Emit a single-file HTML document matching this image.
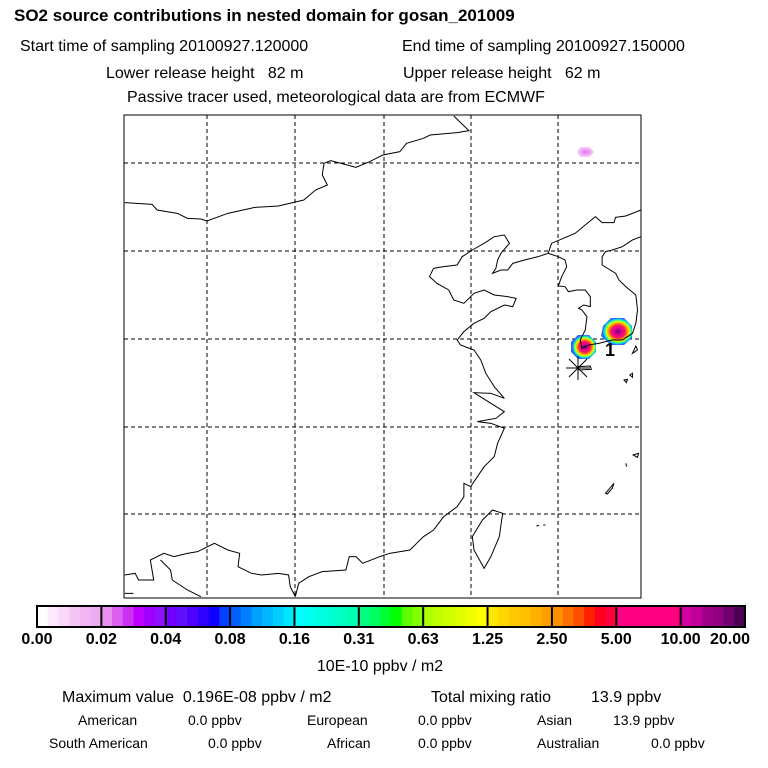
<!DOCTYPE html>
<html><head><meta charset="utf-8"><style>
body{margin:0;background:#fff;width:768px;height:768px;overflow:hidden;font-family:"Liberation Sans",sans-serif}
svg{display:block}
text{white-space:pre}
</style></head><body>
<svg width="768" height="768" viewBox="0 0 768 768" font-family="Liberation Sans, sans-serif">
<text x="14" y="21" font-size="17" font-weight="bold">SO2 source contributions in nested domain for gosan_201009</text>
<text x="20" y="51" font-size="16">Start time of sampling 20100927.120000</text>
<text x="402" y="51" font-size="16">End time of sampling 20100927.150000</text>
<text x="106" y="78" font-size="16">Lower release height   82 m</text>
<text x="403" y="78" font-size="16">Upper release height   62 m</text>
<text x="127" y="102" font-size="16">Passive tracer used, meteorological data are from ECMWF</text>

<g>
<defs>
<radialGradient id="pl" cx="0.55" cy="0.5" r="0.5">
<stop offset="0" stop-color="#600070"/><stop offset="0.25" stop-color="#e0009a"/><stop offset="0.45" stop-color="#ff1060"/><stop offset="0.62" stop-color="#ffa000"/><stop offset="0.75" stop-color="#e0ff00"/><stop offset="0.86" stop-color="#00ffc0"/><stop offset="1" stop-color="#3060ff"/>
</radialGradient>
<radialGradient id="pk" cx="0.5" cy="0.5" r="0.5"><stop offset="0" stop-color="#e070f0"/><stop offset="1" stop-color="#f8d0f8"/></radialGradient>
</defs>
<g stroke="#000" stroke-width="1" stroke-dasharray="4,3">
<line x1="207" y1="115" x2="207" y2="598"/><line x1="295" y1="115" x2="295" y2="598"/><line x1="384" y1="115" x2="384" y2="598"/><line x1="471" y1="115" x2="471" y2="598"/><line x1="558" y1="115" x2="558" y2="598"/>
<line x1="124" y1="163" x2="641" y2="163"/><line x1="124" y1="251" x2="641" y2="251"/><line x1="124" y1="339" x2="641" y2="339"/><line x1="124" y1="427" x2="641" y2="427"/><line x1="124" y1="514" x2="641" y2="514"/>
</g>
<polygon points="580,147 590,147 594,152 590,157 580,157 577,152" fill="url(#pk)"/>
<polygon points="578,335 589,335 596,342 596,352 589,359 578,359 571,352 571,342" fill="url(#pl)"/>
<polygon points="611,318 624,318 632,326 632,338 624,345 611,345 601,336 603,326" fill="url(#pl)"/>
<g transform="translate(120,110) scale(0.33715,0.33333)" fill="none" stroke="#000" stroke-width="1">
<path vector-effect="non-scaling-stroke" d="M14,278 L95,283 L110,300 L170,310 L200,325 L240,327 L258,333 L320,310 L400,292 L470,288 L545,270 L580,240 L615,225 L600,195 L605,160 L625,152 L700,172 L740,155 L780,135 L830,125 L850,100 L900,85 L920,75 L1000,68 L1035,62 L990,18"/>
<path vector-effect="non-scaling-stroke" d="M1270,430 L1280,400 L1350,370 L1410,320 L1430,338 L1465,338 L1470,322 L1500,318 L1545,300"/>
<path vector-effect="non-scaling-stroke" d="M1545,380 L1520,390 L1490,410 L1460,420 L1440,425 L1430,440 L1430,465 L1470,490 L1480,510 L1500,530 L1530,555 L1535,600 L1530,640 L1520,670 L1490,690 L1460,690 L1420,700 L1390,705 L1370,715 L1365,690 L1380,660 L1385,620 L1370,600 L1360,595 L1375,585 L1395,590 L1395,560 L1380,540 L1355,540 L1330,545 L1320,530 L1300,528 L1310,500 L1325,470 L1320,450 L1300,440 L1270,430 L1240,440 L1200,450 L1165,460 L1150,480 L1130,480 L1105,490 L1115,475 L1120,450 L1130,430 L1155,400 L1140,375 L1110,380 L1080,400 L1045,420 L1015,440 L1000,465 L960,470 L930,475 L918,500 L940,520 L975,540 L990,570 L1020,580 L1050,550 L1080,540 L1110,555 L1150,560 L1175,565 L1165,590 L1140,585 L1100,605 L1080,625 L1050,640 L1020,665 L1000,690 L1010,705 L1050,720 L1070,750 L1085,790 L1110,830 L1140,865 L1100,850 L1050,848 L1100,880 L1140,905 L1115,925 L1060,935 L1100,940 L1140,955 L1120,1000 L1110,1040 L1080,1070 L1060,1100 L1040,1130 L1020,1120 L1020,1160 L1000,1190 L960,1220 L930,1260 L900,1280 L880,1300 L860,1320 L800,1330 L770,1340 L720,1360 L700,1340 L680,1340 L670,1380 L600,1385 L560,1400 L530,1420 L520,1460"/>
<path vector-effect="non-scaling-stroke" d="M14,1395 L45,1390 L55,1410 L100,1410 L90,1350 L130,1330 L160,1340 L200,1330 L230,1325 L280,1300 L320,1320 L355,1330 L350,1370 L390,1390 L420,1395 L470,1390 L500,1395 L505,1430 L520,1460"/>
<path vector-effect="non-scaling-stroke" d="M14,1450 L40,1450 M120,1350 L150,1380 L155,1410 L200,1440 L240,1460"/>
<path vector-effect="non-scaling-stroke" d="M1105,1200 L1135,1210 L1125,1280 L1100,1340 L1080,1375 L1050,1320 L1045,1280 L1075,1230 Z"/>
<path vector-effect="non-scaling-stroke" d="M1360,770 L1395,768 L1398,778 L1362,780 Z M1520,730 L1530,708 L1535,720 Z M1495,810 L1505,808 L1502,818 Z M1512,795 L1520,790 L1520,802 Z M1522,1035 L1538,1030 L1535,1042 Z M1440,1150 L1465,1120 L1460,1135 L1445,1152 Z M1235,1248 L1243,1246 M1255,1245 L1262,1245 M1500,1060 L1503,1070"/>
</g>
<g stroke="#000" stroke-width="1">
<line x1="566" y1="368" x2="590" y2="368"/><line x1="578" y1="356" x2="578" y2="380"/><line x1="569" y1="359" x2="587" y2="377"/><line x1="587" y1="359" x2="569" y2="377"/>
</g>
<text x="605" y="356" font-size="18" font-weight="bold">1</text>
<rect x="124" y="115" width="517" height="483" fill="none" stroke="#000" stroke-width="1"/>
</g>

<g id="cbar"></g>
<text x="380" y="671" font-size="16" text-anchor="middle">10E-10 ppbv / m2</text>
<g font-size="16">
<text x="62" y="702">Maximum value  0.196E-08 ppbv / m2</text>
<text x="431" y="702">Total mixing ratio</text>
<text x="591" y="702">13.9 ppbv</text>
</g>
<g font-size="14">
<text x="78" y="725">American</text><text x="188" y="725">0.0 ppbv</text>
<text x="307" y="725">European</text><text x="418" y="725">0.0 ppbv</text>
<text x="537" y="725">Asian</text><text x="613" y="725">13.9 ppbv</text>
<text x="49" y="748">South American</text><text x="208" y="748">0.0 ppbv</text>
<text x="327" y="748">African</text><text x="418" y="748">0.0 ppbv</text>
<text x="537" y="748">Australian</text><text x="651" y="748">0.0 ppbv</text>
</g>
</svg>
<script>
const tickLabels=["0.00","0.02","0.04","0.08","0.16","0.31","0.63","1.25","2.50","5.00","10.00","20.00"];
const segColors=[
["#ffffff","#fdeafd","#f9d8f9","#f5c4f5","#f2b4f2","#eeaaf0"],
["#e890f0","#dc60f0","#cc30f0","#c000ff","#a000ff","#9010ff"],
["#7000ff","#6010ff","#5000ff","#3000ff","#1000ff","#0040ff"],
["#0060ff","#0080ff","#00a0ff","#00b8ff","#00d0ff","#00e8ff"],
["#00ffff","#00fff0","#00ffe0","#00ffd0","#00ffc0","#00ffb0"],
["#00ff80","#00ff60","#00ff30","#00ff00","#60ff00","#80ff00"],
["#b0ff00","#c0ff00","#d0ff00","#e0ff00","#f0ff00","#ffff00"],
["#ffe800","#ffd800","#ffc800","#ffc000","#ffb000","#ffa000"],
["#ff9000","#ff7000","#ff5000","#ff2000","#ff0020","#ff0040"],
["#ff0080","#ff0080","#ff0080","#ff0080","#ff0080","#ff0080"],
["#d000a0","#c00098","#a00088","#900080","#700070","#500050"]];
const NS="http://www.w3.org/2000/svg";
const g=document.getElementById('cbar');
const x0=37,x1=745,y0=606,h=21;
const sx=i=>x0+(x1-x0)*i/segColors.length;
segColors.forEach((cols,i)=>{
  const w=(sx(i+1)-sx(i))/cols.length;
  cols.forEach((c,j)=>{
    const r=document.createElementNS(NS,'rect');
    
    
    r.setAttribute('x',sx(i)+j*w);r.setAttribute('y',y0);r.setAttribute('width',w+0.5);r.setAttribute('height',h);r.setAttribute('fill',c);
    g.appendChild(r);
  });
});
for(let i=0;i<=segColors.length;i++){
  const l=document.createElementNS(NS,'line');
  
  
  l.setAttribute('x1',sx(i));l.setAttribute('x2',sx(i));l.setAttribute('y1',y0);l.setAttribute('y2',y0+h);l.setAttribute('stroke','#000');l.setAttribute('stroke-width','2');
  g.appendChild(l);
}
const fr=document.createElementNS(NS,'rect');


fr.setAttribute('x',x0);fr.setAttribute('y',y0);fr.setAttribute('width',x1-x0);fr.setAttribute('height',h);fr.setAttribute('fill','none');fr.setAttribute('stroke','#000');fr.setAttribute('stroke-width','2');
g.appendChild(fr);
tickLabels.forEach((t,i)=>{
  const tx=document.createElementNS(NS,'text');
  
  
  let x=sx(i);
  if(i===0)x=Math.max(x,26);
  if(i===tickLabels.length-1)x=Math.min(x,730);
  tx.setAttribute('x',x);tx.setAttribute('y',644);tx.setAttribute('text-anchor','middle');tx.setAttribute('font-size','16');tx.setAttribute('font-weight','bold');
  tx.textContent=t;g.appendChild(tx);
});
</script>
</body></html>
